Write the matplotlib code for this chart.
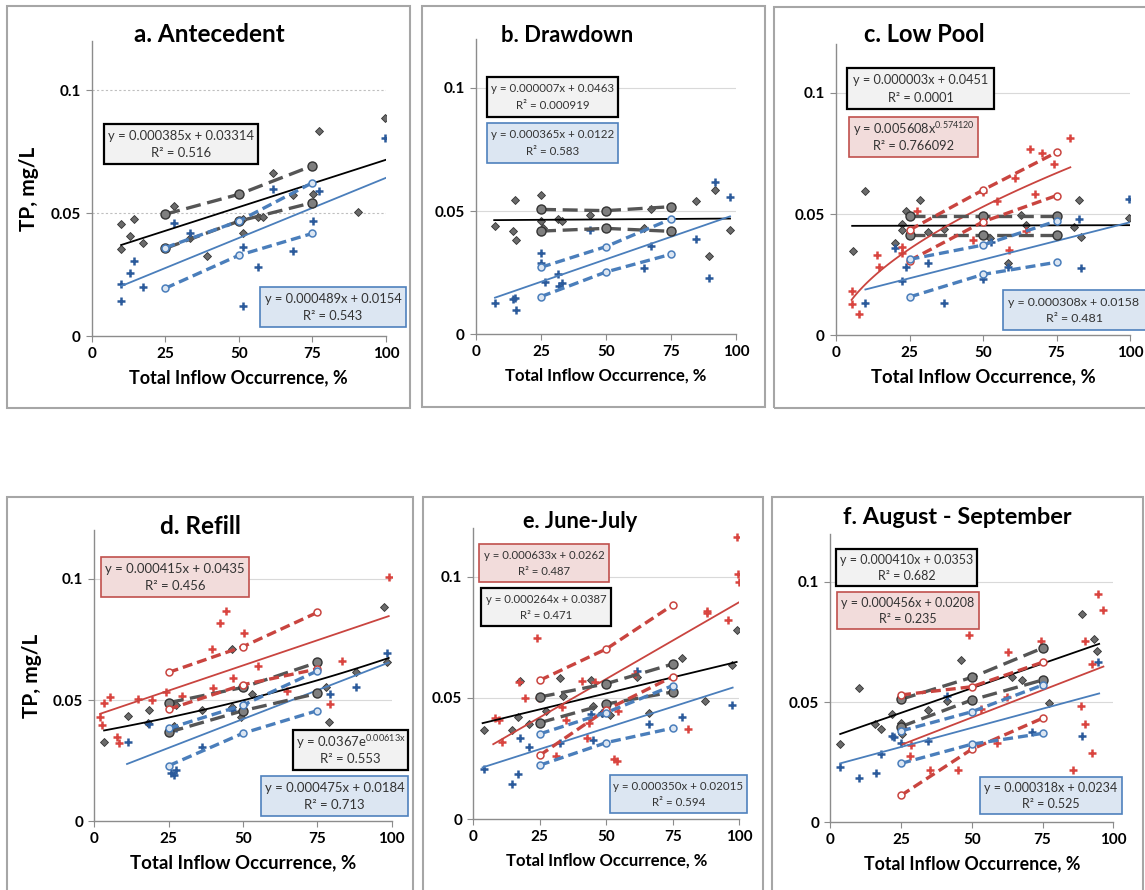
import numpy as np
import matplotlib
matplotlib.use("Agg")
import matplotlib.pyplot as plt
from matplotlib.patches import Rectangle

plt.rcParams['font.family'] = ['Lato', 'DejaVu Sans']
plt.rcParams['mathtext.fontset'] = 'custom'
plt.rcParams['mathtext.rm'] = 'Lato'

occ = [25, 50, 75]
x_ticks = [0, 25, 50, 75, 100]
y_ticks = [0, 0.05, 0.1]
y_tick_labels = ['0', '0.05', '0.1']

# a. Antecedent
a_gray_x = [10, 10, 12.9, 14.5, 17.4, 27.9, 33.4, 39.1, 51.4, 51.4, 56.4, 58.2, 61.7, 68.5, 75.3, 77.1, 90.5, 99.7]
a_gray_y = [0.0454, 0.0354, 0.0408, 0.0477, 0.0379, 0.0528, 0.0398, 0.0325, 0.0420, 0.0474, 0.0485, 0.0485,
            0.0664, 0.0572, 0.0577, 0.0833, 0.0505, 0.0888]
a_blue_x = [10, 10, 12.9, 14.5, 17.4, 28.1, 33.4, 51.4, 51.4, 56.4, 61.7, 68.5, 75.3, 77.1, 99.7]
a_blue_y = [0.0210, 0.0142, 0.0255, 0.0306, 0.0201, 0.0458, 0.0417, 0.0363, 0.0123, 0.0279, 0.0599, 0.0346,
            0.0467, 0.0591, 0.0806]
a_gray_hi = [0.0495, 0.0576, 0.0692]
a_gray_lo = [0.0356, 0.0467, 0.0542]
a_blue_hi = [0.0359, 0.0467, 0.0623]
a_blue_lo = [0.0194, 0.0328, 0.0417]

# b. Drawdown
b_gray_x = [7.3, 14.1, 15.0, 15.4, 24.9, 24.9, 25.9, 31.4, 33.2, 43.8, 64.6, 67.2, 84.6, 89.7, 91.8, 97.7]
b_gray_y = [0.0438, 0.0419, 0.0545, 0.0384, 0.0564, 0.0460, 0.0430, 0.0468, 0.0460, 0.0484, 0.0430, 0.0509,
            0.0541, 0.0319, 0.0585, 0.0422]
b_blue_x = [7.3, 14.1, 15.0, 15.4, 24.9, 25.1, 26.4, 31.4, 31.9, 33.2, 43.8, 64.6, 67.2, 84.6, 89.7, 91.8, 97.7]
b_blue_y = [0.0129, 0.0142, 0.0146, 0.0099, 0.0329, 0.0288, 0.0212, 0.0245, 0.0198, 0.0210, 0.0424, 0.0271,
            0.0359, 0.0388, 0.0227, 0.0618, 0.0558]
b_gray_hi = [0.0507, 0.0502, 0.0518]
b_gray_lo = [0.0419, 0.0430, 0.0418]
b_blue_hi = [0.0272, 0.0356, 0.0468]
b_blue_lo = [0.0153, 0.0253, 0.0325]

# c. Low Pool
c_gray_x = [5.9, 10.0, 20.1, 22.3, 22.3, 23.7, 28.6, 31.3, 36.6, 52.4, 58.5, 62.8, 64.5, 81.1, 82.5, 83.4, 99.8]
c_gray_y = [0.0349, 0.0593, 0.0380, 0.0457, 0.0434, 0.0511, 0.0556, 0.0427, 0.0440, 0.0401, 0.0299, 0.0496,
            0.0453, 0.0445, 0.0558, 0.0404, 0.0482]
c_blue_x = [10.0, 20.1, 22.3, 23.7, 31.3, 36.6, 50.1, 52.6, 58.5, 82.5, 83.4, 99.8]
c_blue_y = [0.0135, 0.0360, 0.0225, 0.0283, 0.0297, 0.0135, 0.0231, 0.0385, 0.0283, 0.0479, 0.0279, 0.0562]
c_red_x = [5.3, 5.3, 7.8, 14.1, 14.7, 22.3, 22.6, 27.4, 46.7, 50.1, 54.6, 58.8, 60.9, 64.7, 66.0, 67.6, 70.0,
           74.1, 79.7]
c_red_y = [0.0184, 0.0129, 0.0088, 0.0331, 0.0283, 0.0365, 0.0341, 0.0512, 0.0393, 0.0592, 0.0552, 0.0352,
           0.0647, 0.0430, 0.0768, 0.0581, 0.0750, 0.0706, 0.0812]
c_gray_hi = [0.0493, 0.0493, 0.0493]
c_gray_lo = [0.0412, 0.0412, 0.0412]
c_red_hi = [0.0434, 0.0599, 0.0754]
c_red_lo = [0.0308, 0.0468, 0.0576]
c_blue_hi = [0.0313, 0.0372, 0.0471]
c_blue_lo = [0.0158, 0.0251, 0.0301]

# d. Refill
d_gray_x = [3.1, 11.2, 17.9, 18.5, 26.7, 27.4, 36.3, 46.2, 46.4, 49.3, 52.9, 77.9, 79.0, 88.0, 97.3, 98.3]
d_gray_y = [0.0327, 0.0435, 0.0405, 0.0460, 0.0394, 0.0478, 0.0460, 0.0709, 0.0473, 0.0431, 0.0523, 0.0554,
            0.0411, 0.0617, 0.0885, 0.0658]
d_blue_x = [11.2, 18.5, 25.8, 26.7, 27.6, 27.4, 36.3, 46.4, 50.4, 79.3, 88.0, 98.3]
d_blue_y = [0.0327, 0.0400, 0.0198, 0.0190, 0.0212, 0.0383, 0.0308, 0.0459, 0.0484, 0.0526, 0.0554, 0.0695]
d_red_x = [1.9, 2.5, 3.1, 5.3, 7.5, 8.3, 14.6, 19.5, 24.0, 29.4, 39.6, 39.8, 42.2, 44.2, 46.5, 50.4, 55.2,
           64.9, 79.3, 83.2, 99.1]
d_red_y = [0.0429, 0.0397, 0.0488, 0.0512, 0.0346, 0.0323, 0.0505, 0.0499, 0.0532, 0.0518, 0.0710, 0.0548,
           0.0819, 0.0868, 0.0589, 0.0775, 0.0640, 0.0536, 0.0484, 0.0662, 0.1008]
d_gray_hi = [0.0489, 0.0552, 0.0655]
d_gray_lo = [0.0367, 0.0456, 0.0527]
d_red_hi = [0.0614, 0.0720, 0.0861]
d_red_lo = [0.0462, 0.0563, 0.0628]
d_blue_hi = [0.0383, 0.0479, 0.0620]
d_blue_lo = [0.0229, 0.0363, 0.0456]

# e. June-July
e_gray_x = [4.0, 14.7, 16.7, 17.5, 21.1, 27.2, 32.7, 33.8, 44.2, 45.1, 48.2, 51.4, 61.4, 65.9, 78.6, 87.1,
            97.2, 99.0]
e_gray_y = [0.0368, 0.0368, 0.0420, 0.0571, 0.0391, 0.0448, 0.0584, 0.0508, 0.0573, 0.0466, 0.0440, 0.0430,
            0.0587, 0.0440, 0.0665, 0.0488, 0.0637, 0.0780]
e_blue_x = [4.0, 14.7, 16.7, 17.5, 21.1, 32.7, 44.2, 45.1, 48.2, 61.4, 65.9, 78.3, 97.2]
e_blue_y = [0.0206, 0.0144, 0.0185, 0.0334, 0.0299, 0.0313, 0.0433, 0.0327, 0.0437, 0.0613, 0.0394, 0.0423,
            0.0471]
e_red_x = [8.0, 9.6, 10.7, 17.2, 19.4, 24.1, 24.6, 31.0, 33.5, 34.7, 40.9, 42.6, 43.6, 45.6, 52.8, 54.0, 54.4,
           60.9, 80.9, 88.0, 88.0, 95.6, 99.2, 99.6, 100.0]
e_red_y = [0.0419, 0.0409, 0.0317, 0.0567, 0.0499, 0.0747, 0.0500, 0.0261, 0.0464, 0.0409, 0.0569, 0.0337,
           0.0398, 0.0567, 0.0250, 0.0240, 0.0446, 0.0598, 0.0374, 0.0860, 0.0849, 0.0820, 0.1165, 0.1010,
           0.0979]
e_gray_hi = [0.0504, 0.0559, 0.0640]
e_gray_lo = [0.0398, 0.0475, 0.0525]
e_red_hi = [0.0573, 0.0702, 0.0883]
e_red_lo = [0.0264, 0.0451, 0.0588]
e_blue_hi = [0.0352, 0.0440, 0.0551]
e_blue_lo = [0.0223, 0.0316, 0.0376]

# f. August - September
f_gray_x = [3.4, 10.1, 15.9, 17.9, 21.7, 25.0, 25.2, 34.4, 41.1, 46.2, 64.1, 67.8, 77.4, 88.8, 93.1, 94.3]
f_gray_y = [0.0325, 0.0560, 0.0408, 0.0387, 0.0449, 0.0415, 0.0366, 0.0467, 0.0506, 0.0675, 0.0606, 0.0592,
            0.0498, 0.0865, 0.0764, 0.0714]
f_blue_x = [3.4, 10.1, 16.1, 17.9, 21.7, 22.6, 25.0, 34.4, 41.1, 71.1, 88.8, 94.7]
f_blue_y = [0.0229, 0.0183, 0.0207, 0.0283, 0.0361, 0.0354, 0.0331, 0.0338, 0.0526, 0.0374, 0.0359, 0.0667]
f_red_x = [25.6, 28.2, 28.5, 35.2, 45.3, 49.0, 53.1, 58.8, 62.3, 62.8, 74.3, 85.7, 88.5, 90.0, 90.0, 92.5,
           92.6, 94.7, 96.5]
f_red_y = [0.0391, 0.0277, 0.0320, 0.0219, 0.0219, 0.0778, 0.0473, 0.0329, 0.0520, 0.0709, 0.0756, 0.0218,
           0.0485, 0.0755, 0.0409, 0.0657, 0.0290, 0.0950, 0.0883]
f_gray_hi = [0.0512, 0.0603, 0.0725]
f_gray_lo = [0.0398, 0.0509, 0.0592]
f_red_hi = [0.0530, 0.0564, 0.0666]
f_red_lo = [0.0112, 0.0304, 0.0433]
f_blue_hi = [0.0380, 0.0460, 0.0571]
f_blue_lo = [0.0245, 0.0325, 0.0370]

# trend lines: (kind, coef1, coef2, x start, x end)
a_trends = {'gray': ('lin', 0.000385, 0.03314, 10, 100), 'blue': ('lin', 0.000489, 0.0154, 10, 100)}
b_trends = {'gray': ('lin', 0.000007, 0.0463, 7, 97.7), 'blue': ('lin', 0.000365, 0.0122, 7.3, 97.7)}
c_trends = {'gray': ('lin', 0.000003, 0.0451, 5.5, 100), 'blue': ('lin', 0.000308, 0.0158, 10, 100),
            'red': ('pow', 0.005608, 0.574120, 5.3, 79.7)}
d_trends = {'gray': ('exp', 0.0367, 0.00613, 3.3, 99), 'blue': ('lin', 0.000475, 0.0184, 11, 99),
            'red': ('lin', 0.000415, 0.0435, 2, 99)}
e_trends = {'gray': ('lin', 0.000264, 0.0387, 3.5, 99), 'blue': ('lin', 0.000350, 0.02015, 3.5, 97.5),
            'red': ('lin', 0.000633, 0.0262, 7.5, 100)}
f_trends = {'gray': ('lin', 0.000410, 0.0353, 3.5, 95), 'blue': ('lin', 0.000318, 0.0234, 3.5, 95),
            'red': ('lin', 0.000456, 0.0208, 25.5, 96.5)}

W, H = 1145, 890
GRAY_PT, GRAY_EDGE = '#6a6a6a', '#333333'
BLUE_PT, RED_PT = '#2b5a9b', '#d9443f'
BLUE_LN, RED_LN, GRAY_DASH = '#4a7ebb', '#c9443f', '#555555'
BOX_STYLE = {'gray': ('#f2f2f2', '#000000', 1.6), 'blue': ('#dce6f2', '#4f81bd', 1.2),
             'red': ('#f2dcdb', '#c0504d', 1.2)}

fig = plt.figure(figsize=(W / 100, H / 100), dpi=100)


def fx(x):
    return x / W


def fy(y):
    return 1 - y / H


def frame(l, t, r, b):
    fig.patches.append(Rectangle((fx(l), fy(b)), fx(r - l), (b - t) / H, transform=fig.transFigure,
                                 fill=False, edgecolor='#a6a6a6', lw=1.5))


def eq_box(kind, l, t, r, b, line1, line2, fs=9.5, cx=None):
    face, edge, lw = BOX_STYLE[kind]
    fig.patches.append(Rectangle((fx(l), fy(b)), fx(r - l), (b - t) / H, transform=fig.transFigure,
                                 facecolor=face, edgecolor=edge, lw=lw, zorder=5))
    cx = (l + r) / 2 if cx is None else cx
    h = b - t
    fig.text(fx(cx), fy(t + h * 0.3), line1, ha='center', va='center', fontsize=fs, color='#333333', zorder=6)
    fig.text(fx(cx), fy(t + h * 0.72), line2, ha='center', va='center', fontsize=fs, color='#333333', zorder=6)


def trend_line(ax, spec, color):
    kind, c1, c2, x0, x1 = spec
    xs = np.linspace(x0, x1, 100)
    if kind == 'lin':
        ys = c1 * xs + c2
    elif kind == 'exp':
        ys = c1 * np.exp(c2 * xs)
    else:
        ys = c1 * xs ** c2
    ax.plot(xs, ys, color=color, lw=1.3, zorder=4)


def envelope(ax, hi, lo, kind):
    if kind == 'gray':
        style = dict(color=GRAY_DASH, lw=2.4, dashes=(4.5, 2), marker='o', ms=6.5, mfc='#7f7f7f',
                     mec='#333333', mew=1.0)
    elif kind == 'blue':
        style = dict(color=BLUE_LN, lw=2.4, dashes=(3, 1.5), marker='o', ms=5, mfc='#dce6f2',
                     mec=BLUE_LN, mew=1.1)
    else:
        style = dict(color=RED_LN, lw=2.4, dashes=(3, 1.5), marker='o', ms=5, mfc='white',
                     mec=RED_LN, mew=1.1)
    for ys in (hi, lo):
        ax.plot(occ, ys, zorder=4.5, **style)


def panel(box, title, tpos, tfs, xfs, gx, gy, bx, by, rx, ry, trends, env, ylabel=None, grid_ls='-'):
    x0, x1, yb, yt = box
    ax = fig.add_axes([fx(x0), fy(yb), (x1 - x0) / W, (yb - yt) / H])
    ax.set_xlim(0, 100)
    ax.set_ylim(0, 0.12)
    ax.set_facecolor('none')
    for s in ('top', 'right'):
        ax.spines[s].set_visible(False)
    for s in ('left', 'bottom'):
        ax.spines[s].set_color('#8c8c8c')
        ax.spines[s].set_linewidth(1.0)
    ax.set_xticks(x_ticks)
    ax.set_yticks(y_ticks)
    ax.set_yticklabels(y_tick_labels)
    ax.tick_params(direction='out', length=4, color='#8c8c8c', labelsize=11, pad=4)
    for lab in ax.get_xticklabels() + ax.get_yticklabels():
        lab.set_fontweight('bold')
    for gv in (0.05, 0.1):
        ax.axhline(gv, color='#bfbfbf' if grid_ls != '-' else '#d9d9d9', lw=0.8, ls=grid_ls, zorder=0)
    ax.set_xlabel('Total Inflow Occurrence, %', fontsize=xfs, fontweight='bold', labelpad=6)
    if ylabel:
        ax.set_ylabel(ylabel, fontsize=15, fontweight='bold', labelpad=8)
    ax.plot(gx, gy, ls='none', marker='D', ms=4.4, mfc=GRAY_PT, mec=GRAY_EDGE, mew=0.6, zorder=2)
    ax.plot(bx, by, ls='none', marker='+', ms=6, mew=1.8, color=BLUE_PT, zorder=2)
    if rx:
        ax.plot(rx, ry, ls='none', marker='+', ms=6, mew=1.8, color=RED_PT, zorder=2)
    colors = {'gray': '#000000', 'blue': BLUE_LN, 'red': RED_LN}
    for k, spec in trends.items():
        trend_line(ax, spec, colors[k])
    for k, (hi, lo) in env.items():
        envelope(ax, hi, lo, k)
    fig.text(fx(tpos[0]), fy(tpos[1]), title, ha='center', va='center', fontsize=tfs, fontweight='bold')
    return ax


# panel frames
frame(7, 6, 410, 408)
frame(422, 6, 765, 407)
frame(774, 7, 1150, 408)
frame(7, 497, 413, 895)
frame(423, 497, 763, 895)
frame(772, 497, 1143, 895)

panel((91.7, 386, 336, 40.8), 'a. Antecedent', (209, 34), 17.5, 13, a_gray_x, a_gray_y, a_blue_x, a_blue_y,
      [], [], a_trends, {'gray': (a_gray_hi, a_gray_lo), 'blue': (a_blue_hi, a_blue_lo)},
      ylabel='TP, mg/L', grid_ls=(0, (2, 2)))
panel((476, 736, 334.3, 38.7), 'b. Drawdown', (567, 35), 15.8, 12, b_gray_x, b_gray_y, b_blue_x, b_blue_y,
      [], [], b_trends, {'gray': (b_gray_hi, b_gray_lo), 'blue': (b_blue_hi, b_blue_lo)})
panel((836, 1130, 335.3, 44.2), 'c. Low Pool', (924, 34), 17, 13.3, c_gray_x, c_gray_y, c_blue_x, c_blue_y,
      c_red_x, c_red_y, c_trends, {'gray': (c_gray_hi, c_gray_lo), 'red': (c_red_hi, c_red_lo),
                                   'blue': (c_blue_hi, c_blue_lo)})
panel((94.3, 391.7, 821.3, 530.2), 'd. Refill', (200, 527), 17.5, 13.4, d_gray_x, d_gray_y, d_blue_x,
      d_blue_y, d_red_x, d_red_y, d_trends, {'gray': (d_gray_hi, d_gray_lo), 'red': (d_red_hi, d_red_lo),
                                             'blue': (d_blue_hi, d_blue_lo)}, ylabel='TP, mg/L')
panel((473.3, 739.3, 819.3, 528.1), 'e. June-July', (580, 522), 15.7, 12, e_gray_x, e_gray_y, e_blue_x,
      e_blue_y, e_red_x, e_red_y, e_trends, {'gray': (e_gray_hi, e_gray_lo), 'red': (e_red_hi, e_red_lo),
                                             'blue': (e_blue_hi, e_blue_lo)})
panel((830.3, 1113.3, 822.3, 533.9), 'f. August - September', (957, 518), 16.9, 12.8, f_gray_x, f_gray_y,
      f_blue_x, f_blue_y, f_red_x, f_red_y, f_trends,
      {'gray': (f_gray_hi, f_gray_lo), 'red': (f_red_hi, f_red_lo), 'blue': (f_blue_hi, f_blue_lo)})

# equation boxes
eq_box('gray', 104, 124, 258, 164, 'y = 0.000385x + 0.03314', 'R² = 0.516', fs=9.4)
eq_box('blue', 260, 287, 406, 327, 'y = 0.000489x + 0.0154', 'R² = 0.543', fs=9.25)
eq_box('gray', 487, 77, 618, 117, 'y = 0.000007x + 0.0463', 'R² = 0.000919', fs=8.3)
eq_box('blue', 487, 123, 618, 163, 'y = 0.000365x + 0.0122', 'R² = 0.583', fs=8.3)
eq_box('gray', 847, 68, 994, 109, 'y = 0.000003x + 0.0451', 'R² = 0.0001', fs=9.2)
eq_box('red', 849, 117, 978, 157, r'y = 0.005608x$^{\mathregular{0.574120}}$', 'R² = 0.766092', fs=9.2)
eq_box('blue', 1003, 290, 1155, 330, 'y = 0.000308x + 0.0158', 'R² = 0.481', fs=8.9, cx=1074)
eq_box('red', 101, 557, 249, 597, 'y = 0.000415x + 0.0435', 'R² = 0.456', fs=9.45)
eq_box('gray', 293, 730, 408, 770, r'y = 0.0367e$^{\mathregular{0.00613x}}$', 'R² = 0.553', fs=9.45)
eq_box('blue', 261, 776, 408, 816, 'y = 0.000475x + 0.0184', 'R² = 0.713', fs=9.45)
eq_box('red', 479, 544, 609, 582, 'y = 0.000633x + 0.0262', 'R² = 0.487', fs=8.2)
eq_box('gray', 481, 588, 611, 626, 'y = 0.000264x + 0.0387', 'R² = 0.471', fs=8.2)
eq_box('blue', 610, 775, 747, 813, 'y = 0.000350x + 0.02015', 'R² = 0.594', fs=8.3)
eq_box('gray', 836, 549, 977, 586, 'y = 0.000410x + 0.0353', 'R² = 0.682', fs=9.0)
eq_box('red', 837, 592, 979, 629, 'y = 0.000456x + 0.0208', 'R² = 0.235', fs=9.0)
eq_box('blue', 980, 777, 1122, 814, 'y = 0.000318x + 0.0234', 'R² = 0.525', fs=9.0)

fig.savefig('out.png', dpi=100, facecolor='white')
